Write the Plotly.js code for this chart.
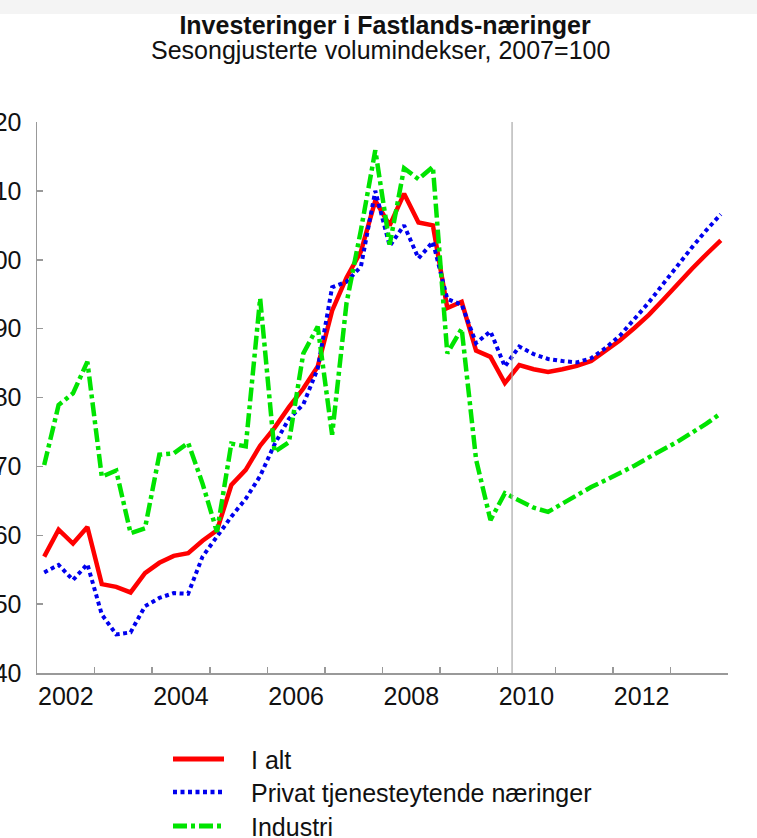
<!DOCTYPE html>
<html>
<head>
<meta charset="utf-8">
<script src="https://cdn.plot.ly/plotly-3.0.1.min.js"></script>
<style>html,body{margin:0;padding:0;background:#fff;overflow:hidden}</style>
</head>
<body>
<div id="chart" style="width:757px;height:838px"></div>
<script>
// Quarterly data, 2002K1 - 2013K4 (48 quarters)
const firstYear = 2002;
const quarterCount = 48;
const yearLabels = ["2002", "2004", "2006", "2008", "2010", "2012"];
const seriesNames = ["I alt", "Privat tjenesteytende næringer", "Industri"];
const forecastStart = 2010.25;

const iAlt = [
  56.9, 60.8, 58.8, 61.2, 52.9, 52.5, 51.7, 54.5,
  56.0, 57.0, 57.4, 59.2, 60.7, 67.3, 69.5, 73.0,
  75.6, 78.6, 81.3, 84.5, 92.6, 97.4, 101.2, 108.6,
  105.0, 109.6, 105.4, 105.0, 93.0, 93.9, 86.8, 85.9,
  82.1, 84.7, 84.1, 83.7, 84.1, 84.6, 85.3, 86.8,
  88.3, 90.1, 92.0, 94.2, 96.5, 98.7, 100.8, 102.8
];
const privat = [
  54.6, 55.7, 53.5, 55.8, 48.5, 45.6, 45.9, 49.7,
  50.9, 51.6, 51.5, 56.9, 59.8, 62.7, 65.3, 68.6,
  73.2, 76.9, 79.0, 84.2, 96.0, 96.8, 99.0, 110.0,
  102.0, 105.0, 100.2, 102.6, 94.3, 93.5, 87.9, 89.6,
  84.5, 87.4, 86.3, 85.6, 85.3, 85.1, 85.7, 87.2,
  89.0, 91.4, 93.8, 96.5, 99.2, 101.8, 104.3, 106.6
];
const industri = [
  70.2, 78.9, 80.6, 85.2, 68.5, 69.4, 60.3, 61.0,
  71.7, 71.9, 73.4, 67.5, 60.5, 73.3, 72.9, 94.4,
  72.1, 73.5, 86.4, 90.3, 74.6, 93.7, 104.3, 115.9,
  102.2, 113.3, 111.7, 113.5, 86.4, 90.0, 71.0, 62.2,
  66.1, 65.0, 64.0, 63.4, 64.6, 65.8, 67.0, 68.0,
  69.0, 70.1, 71.3, 72.4, 73.6, 74.9, 76.2, 77.7
];

// quarter positions (mid-quarter) on a numeric year axis
const xq = [];
for (let i = 0; i < quarterCount; i++) xq.push(firstYear + (i + 0.5) / 4);
const yearBounds = [];
for (let y = firstYear; y <= firstYear + quarterCount / 4; y++) yearBounds.push(y);

const W = 757, H = 838, ML = 37, MR = 29, MT = 122, MB = 165;
const PW = W - ML - MR, PH = H - MT - MB;
const px = x => (x - ML) / PW;
const py = y => (MT + PH - y) / PH;

const FONT = "Liberation Sans, Arial, Helvetica, sans-serif";
const colors = ["#ff0000", "#0000ee", "#00e400"];
const widths = [4.5, 4, 4.5];
const dashes = ["solid", "4px,3.5px", "14px,4px,4px,4px"];
const values = [iAlt, privat, industri];

const traces = values.map((v, k) => ({
  x: xq, y: v, type: "scatter", mode: "lines", name: seriesNames[k],
  line: {color: colors[k], width: widths[k], dash: dashes[k]},
  showlegend: false
}));

const legendY = [759, 792, 826];
const shapes = [
  {type: "rect", xref: "paper", yref: "paper", x0: px(0), x1: px(W), y0: py(14), y1: py(0),
   fillcolor: "#f4f4f4", line: {width: 0}, layer: "below"},
  {type: "line", xref: "x", yref: "paper", x0: forecastStart, x1: forecastStart, y0: 0, y1: 1,
   line: {color: "#a8a8a8", width: 1.2}}
];
const annotations = [
  {xref: "paper", yref: "paper", x: px(380), y: py(50), xanchor: "center", yanchor: "middle",
   showarrow: false, text: "Sesongjusterte volumindekser, 2007=100",
   font: {family: FONT, size: 25, color: "#111"}}
];
seriesNames.forEach((n, k) => {
  shapes.push({type: "line", xref: "paper", yref: "paper",
    x0: px(173), x1: px(224), y0: py(legendY[k]), y1: py(legendY[k]),
    line: {color: colors[k], width: widths[k] + 0.5, dash: dashes[k]}});
  annotations.push({xref: "paper", yref: "paper", x: px(249), y: py(legendY[k] + 1),
    xanchor: "left", yanchor: "middle", showarrow: false, text: n,
    font: {family: FONT, size: 25, color: "#111"}});
});

const layout = {
  width: W, height: H,
  margin: {l: ML, r: MR, t: MT, b: MB, pad: 0},
  paper_bgcolor: "#ffffff", plot_bgcolor: "#ffffff",
  font: {family: FONT, size: 25, color: "#111"},
  title: {text: "<b>Investeringer i Fastlands-næringer</b>",
    font: {family: FONT, size: 25, color: "#111"},
    xref: "container", x: 385 / W, xanchor: "center",
    yref: "container", y: 1 - 25 / H, yanchor: "middle"},
  xaxis: {
    range: [firstYear, firstYear + quarterCount / 4],
    tickmode: "array", tickvals: yearLabels.map(t => Number(t) + 0.5), ticktext: yearLabels,
    ticks: "inside", ticklen: 0,
    minor: {tickmode: "array", tickvals: yearBounds, ticks: "inside", ticklen: 6,
      tickwidth: 1.5, tickcolor: "#999", showgrid: false},
    showline: true, linecolor: "#999", linewidth: 1.5, mirror: false,
    showgrid: false, zeroline: false, automargin: false, fixedrange: true,
    tickfont: {family: FONT, size: 25, color: "#111"}
  },
  yaxis: {
    range: [40, 120], tickmode: "linear", tick0: 40, dtick: 10,
    ticks: "inside", ticklen: 6, tickwidth: 1.5, tickcolor: "#999",
    ticklabelstandoff: 9,
    showline: true, linecolor: "#999", linewidth: 1.5,
    showgrid: false, zeroline: false, automargin: false, fixedrange: true,
    tickfont: {family: FONT, size: 25, color: "#111"}
  },
  shapes: shapes,
  annotations: annotations,
  showlegend: false
};

Plotly.newPlot("chart", traces, layout, {staticPlot: true, displayModeBar: false});
</script>
</body>
</html>
